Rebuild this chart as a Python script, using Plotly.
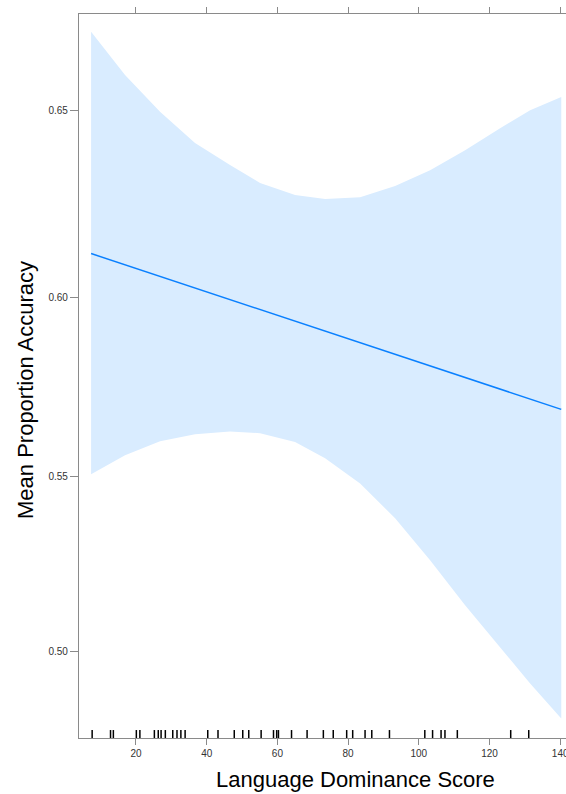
import numpy as np
import plotly.graph_objects as go

# Data (probability scale)
band_x = [7.3, 16.9, 26.8, 36.7, 46.6, 55.1, 65.0, 73.5, 83.4, 93.3, 103.2, 113.1, 123.0, 131.5, 140.3]
band_upper = [0.6703, 0.6593, 0.6498, 0.6416, 0.6358, 0.6310, 0.6278, 0.6267, 0.6272, 0.6302, 0.6344, 0.6397, 0.6455, 0.6502, 0.6536]
band_lower = [0.5506, 0.5560, 0.5599, 0.5619, 0.5627, 0.5622, 0.5597, 0.5551, 0.5480, 0.5381, 0.5261, 0.5133, 0.5012, 0.4909, 0.4809]
fit_x = [7.3, 140.3]
fit_y = [0.6120, 0.5689]
rug_x = [7.6, 12.8, 13.6, 20.1, 21.1, 25.2, 26.3, 27.1, 28.3, 30.4, 31.6, 32.7, 33.9,
         40.3, 43.2, 47.8, 50.2, 51.9, 55.4, 58.9, 59.8, 60.3, 64.0, 68.4,
         73.0, 75.8, 79.6, 81.3, 84.8, 86.7, 91.7, 101.7, 103.9, 106.3, 107.4, 110.9, 126.0, 131.1]
y_ticks = [0.50, 0.55, 0.60, 0.65]
y_tick_labels = ["0.50", "0.55", "0.60", "0.65"]
x_ticks = [20, 40, 60, 80, 100, 120, 140]
y_limits = [0.4753, 0.6748]
x_limits = [3.88, 141.64]


def logit(p):
    p = np.asarray(p, dtype=float)
    return np.log(p / (1 - p))


line_col = "#0a80ff"
band_col = "rgb(217,236,255)"
axis_col = "#8a8a8a"
font_family = "Liberation Sans, Arial, Helvetica, sans-serif"

fig = go.Figure()
fig.add_trace(go.Scatter(
    x=band_x + band_x[::-1],
    y=list(logit(band_upper)) + list(logit(band_lower[::-1])),
    fill="toself", fillcolor=band_col, line=dict(width=0), mode="lines",
    hoverinfo="skip", showlegend=False))
fig.add_trace(go.Scatter(
    x=fit_x, y=logit(fit_y), mode="lines",
    line=dict(color=line_col, width=1.5), showlegend=False))

for rx in rug_x:
    fig.add_shape(type="line", xref="x", yref="y domain", x0=rx, x1=rx, y0=0.0, y1=0.011,
                  line=dict(color="black", width=1.5))

fig.update_layout(
    width=566, height=794,
    margin=dict(l=79, r=0, t=14, b=56),
    plot_bgcolor="white", paper_bgcolor="white",
    font=dict(family=font_family, color="#222"),
    showlegend=False,
)
fig.update_xaxes(
    range=x_limits, tickvals=x_ticks, ticks="outside", ticklen=6, tickwidth=1,
    tickcolor=axis_col, showline=True, linecolor=axis_col, linewidth=1.2,
    mirror="ticks", showgrid=False, zeroline=False, automargin=False,
    ticklabeloverflow="allow", tickfont=dict(size=10, color="#333"))
fig.update_yaxes(
    range=list(logit(y_limits)), tickvals=list(logit(y_ticks)), ticktext=y_tick_labels,
    ticks="outside", ticklen=8, tickwidth=1, tickcolor=axis_col, showline=True,
    linecolor=axis_col, linewidth=1.2, mirror=False, showgrid=False, zeroline=False,
    automargin=False, tickfont=dict(size=10, color="#333"))

fig.add_annotation(text="Language Dominance Score", xref="paper", yref="paper",
                   x=(355 - 79) / 487, y=0, yshift=-41, showarrow=False,
                   xanchor="center", yanchor="middle", font=dict(size=22, color="black"))
fig.add_annotation(text="Mean Proportion Accuracy", xref="paper", yref="paper",
                   x=0, xshift=-54, y=(738 - 390) / 724, showarrow=False, textangle=-90,
                   xanchor="center", yanchor="middle", font=dict(size=22, color="black"))

fig.write_html(
    "out.html",
    config={"displayModeBar": False},
    post_script="document.body.style.margin='0px';document.body.style.overflow='hidden';",
)
